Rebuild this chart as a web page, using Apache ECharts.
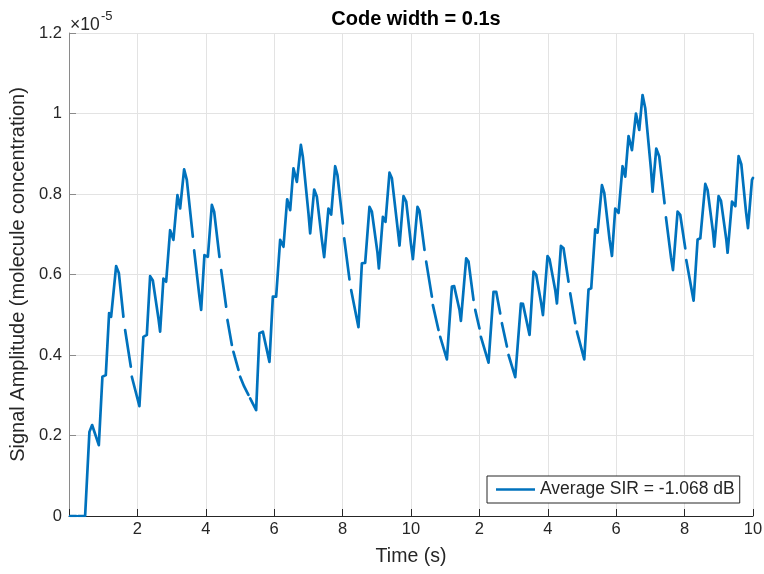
<!DOCTYPE html>
<html>
<head>
<meta charset="utf-8">
<script src="https://cdn.jsdelivr.net/npm/echarts@6/dist/echarts.min.js"></script>
<style>
  html, body { margin: 0; padding: 0; background: #ffffff; }
  #chart { width: 764px; height: 574px; }
</style>
</head>
<body>
<div id="chart"></div>
<script>
// Received signal, time in seconds (two 10 s windows laid end to end)
const timeSec = [
  0.032, 0.208, 0.24, 0.275, 0.471, 0.597, 0.676, 0.872, 0.977, 1.076, 1.173, 1.231, 1.281, 1.378, 1.457, 1.591, 1.616, 1.641, 1.808, 1.822, 1.837, 2.001, 2.059,
  2.176, 2.276, 2.372, 2.451, 2.615, 2.664, 2.761, 2.840, 2.957, 3.053, 3.171, 3.249, 3.366, 3.445, 3.621, 3.640, 3.659, 3.814, 3.864, 3.960, 4.060, 4.177, 4.244, 4.399, 4.424, 4.449, 4.595, 4.614, 4.633, 4.762, 4.785, 4.808, 4.955, 4.980, 5.004, 5.121, 5.247, 5.272, 5.297, 5.472,
  5.569, 5.668, 5.861, 5.961, 6.057, 6.174, 6.271, 6.379, 6.467, 6.563, 6.663, 6.780, 6.838, 7.002, 7.052, 7.169, 7.248, 7.394, 7.461, 7.587, 7.666, 7.783, 7.850, 8.008, 8.027, 8.046, 8.201, 8.226, 8.251, 8.418, 8.464, 8.564, 8.660, 8.786, 8.856, 9.020, 9.061, 9.178, 9.254, 9.371, 9.441, 9.605, 9.664, 9.781, 9.860, 9.997,
  10.055, 10.190, 10.248, 10.395, 10.420, 10.444, 10.611, 10.625, 10.640, 10.804, 10.830, 10.854, 11.050, 11.196, 11.263, 11.418, 11.459, 11.614, 11.682, 11.828, 11.853, 11.878, 12.003, 12.024, 12.044, 12.267, 12.413, 12.492, 12.609, 12.633, 12.658, 12.805, 12.830, 12.852, 13.048, 13.214, 13.273, 13.466, 13.583, 13.662, 13.808, 13.858, 13.992, 14.051, 14.218, 14.267, 14.384, 14.460, 14.606, 14.630, 14.656, 14.802, 14.827, 14.852,
  15.066, 15.191, 15.270, 15.387, 15.455, 15.583, 15.651, 15.806, 15.876, 15.972, 16.069, 16.186, 16.265, 16.361, 16.461, 16.578, 16.674, 16.771, 16.850, 17.017, 17.063, 17.171, 17.259, 17.414, 17.435, 17.455, 17.602, 17.660, 17.795, 17.873, 18.020, 18.035, 18.049, 18.263, 18.380, 18.459, 18.605, 18.672, 18.830, 18.868, 18.994, 19.064, 19.219, 19.257, 19.386, 19.484, 19.579, 19.658, 19.795, 19.853, 19.970, 20.000
];

// Amplitude in units of 1e-5 (molecule concentration); null breaks the trace
const amplitudeE5 = [
  0, 0, null, 0, 0, 0.209, 0.226, 0.176, 0.346, 0.350, 0.504, 0.495, 0.497, 0.621, 0.604, 0.495, null, 0.462, 0.371, null, 0.346, 0.292, 0.273,
  0.445, 0.450, 0.596, 0.585, 0.491, 0.458, 0.590, 0.582, 0.710, 0.686, 0.797, 0.764, 0.861, 0.835, 0.694, null, 0.660, 0.545, 0.512, 0.648, 0.644, 0.773, 0.756, 0.644, null, 0.611, 0.520, null, 0.487, 0.425, null, 0.408, 0.363, null, 0.346, 0.322, 0.301, null, 0.292, 0.263,
  0.454, 0.458, 0.383, 0.545, 0.545, 0.686, 0.669, 0.787, 0.760, 0.864, 0.830, 0.922, 0.892, 0.752, 0.702, 0.811, 0.793, 0.686, 0.643, 0.764, 0.749, 0.869, 0.847, 0.727, null, 0.690, 0.588, null, 0.561, 0.489, 0.469, 0.628, 0.629, 0.768, 0.756, 0.654, 0.615, 0.743, 0.731, 0.853, 0.839, 0.717, 0.672, 0.795, 0.781, 0.677,
  0.638, 0.768, 0.758, 0.661, null, 0.632, 0.545, null, 0.524, 0.462, null, 0.445, 0.389, 0.570, 0.571, 0.512, 0.485, 0.640, 0.632, 0.537, null, 0.512, 0.466, null, 0.445, 0.381, 0.557, 0.557, 0.503, null, 0.479, 0.421, null, 0.400, 0.345, 0.528, 0.527, 0.450, 0.607, 0.599, 0.528, 0.499, 0.646, 0.638, 0.561, 0.528, 0.671, 0.665, 0.582, null, 0.553, 0.479, null, 0.458,
  0.389, 0.563, 0.566, 0.712, 0.704, 0.822, 0.803, 0.687, 0.646, 0.764, 0.753, 0.869, 0.843, 0.944, 0.909, 1.000, 0.959, 1.046, 1.013, 0.861, 0.806, 0.913, 0.893, 0.777, null, 0.742, 0.643, 0.611, 0.756, 0.748, 0.665, null, 0.636, 0.535, 0.687, 0.690, 0.825, 0.810, 0.706, 0.669, 0.795, 0.783, 0.687, 0.654, 0.781, 0.770, 0.894, 0.874, 0.756, 0.715, 0.835, 0.840
];

// Axis ticks
const xTickValues = [0, 2, 4, 6, 8, 10, 12, 14, 16, 18, 20];
const xTickLabels = ['', '2', '4', '6', '8', '10', '2', '4', '6', '8', '10'];
const yTickValues = [0, 0.2, 0.4, 0.6, 0.8, 1.0, 1.2];
const yTickLabels = ['0', '0.2', '0.4', '0.6', '0.8', '1', '1.2'];

const titleText = 'Code width = 0.1s';
const seriesName = 'Average SIR = -1.068 dB';

const FONT = '"Liberation Sans", Arial, Helvetica, sans-serif';
const TEXT_COLOR = '#262626';
const LINE_COLOR = '#0072BD';

const seriesData = timeSec.map((t, i) => [t, amplitudeE5[i] === null ? '-' : amplitudeE5[i]]);

function nearestLabel(values, labels, v) {
  let best = 0;
  for (let i = 1; i < values.length; i++) {
    if (Math.abs(values[i] - v) < Math.abs(values[best] - v)) best = i;
  }
  return labels[best];
}

const chart = echarts.init(document.getElementById('chart'), null, { renderer: 'canvas' });

chart.setOption({
  animation: false,
  backgroundColor: '#ffffff',
  textStyle: { fontFamily: FONT },
  title: {
    text: titleText,
    left: 411,
    top: 4,
    textAlign: 'center',
    textStyle: { fontFamily: FONT, fontSize: 20, fontWeight: 'bold', color: '#000000' }
  },
  grid: { left: 69, right: 11, top: 33, bottom: 58, containLabel: false, outerBoundsMode: 'none' },
  xAxis: {
    type: 'value',
    min: 0,
    max: 20,
    interval: 2,
    name: 'Time (s)',
    nameLocation: 'middle',
    nameGap: 31,
    nameTextStyle: { fontFamily: FONT, fontSize: 19.5, color: TEXT_COLOR },
    axisLine: { show: true, onZero: false, lineStyle: { color: TEXT_COLOR, width: 1 } },
    axisTick: { show: true, inside: true, length: 7, lineStyle: { color: TEXT_COLOR, width: 1 } },
    axisLabel: {
      margin: 5,
      fontFamily: FONT,
      fontSize: 16.5,
      color: TEXT_COLOR,
      formatter: (v) => nearestLabel(xTickValues, xTickLabels, v)
    },
    splitLine: { show: true, lineStyle: { color: '#e3e3e3', width: 1 } }
  },
  yAxis: {
    type: 'value',
    min: 0,
    max: 1.2,
    interval: 0.2,
    name: 'Signal Amplitude (molecule concentration)',
    nameLocation: 'middle',
    nameGap: 36,
    nameTextStyle: { fontFamily: FONT, fontSize: 20, color: TEXT_COLOR },
    axisLine: { show: true, onZero: false, lineStyle: { color: '#8a8a8a', width: 1 } },
    axisTick: { show: true, inside: true, length: 7, lineStyle: { color: '#8a8a8a', width: 1 } },
    axisLabel: {
      margin: 7,
      fontFamily: FONT,
      fontSize: 16.5,
      color: TEXT_COLOR,
      formatter: (v) => nearestLabel(yTickValues, yTickLabels, v)
    },
    splitLine: { show: true, lineStyle: { color: '#e3e3e3', width: 1 } }
  },
  legend: {
    data: [{ name: seriesName, icon: 'rect' }],
    left: 487,
    top: 476,
    orient: 'horizontal',
    padding: [4, 5, 4, 9],
    itemWidth: 39,
    itemHeight: 2.6,
    itemGap: 5,
    itemStyle: { color: LINE_COLOR, borderWidth: 0 },
    backgroundColor: '#ffffff',
    borderColor: '#262626',
    borderWidth: 1,
    borderRadius: 0,
    textStyle: { fontFamily: FONT, fontSize: 17.5, color: TEXT_COLOR, lineHeight: 19 }
  },
  graphic: [
    {
      type: 'text',
      left: 70,
      top: 16,
      style: {
        text: '\u00d710',
        font: '17.5px ' + FONT,
        fill: TEXT_COLOR
      }
    },
    {
      type: 'text',
      left: 101,
      top: 10,
      style: {
        text: '-5',
        font: '13px ' + FONT,
        fill: TEXT_COLOR
      }
    }
  ],
  series: [
    {
      name: seriesName,
      type: 'line',
      data: seriesData,
      symbol: 'none',
      showSymbol: false,
      connectNulls: false,
      smooth: false,
      clip: true,
      lineStyle: { color: LINE_COLOR, width: 2.7, cap: 'round', join: 'round' },
      itemStyle: { color: LINE_COLOR }
    }
  ]
});
</script>
</body>
</html>
